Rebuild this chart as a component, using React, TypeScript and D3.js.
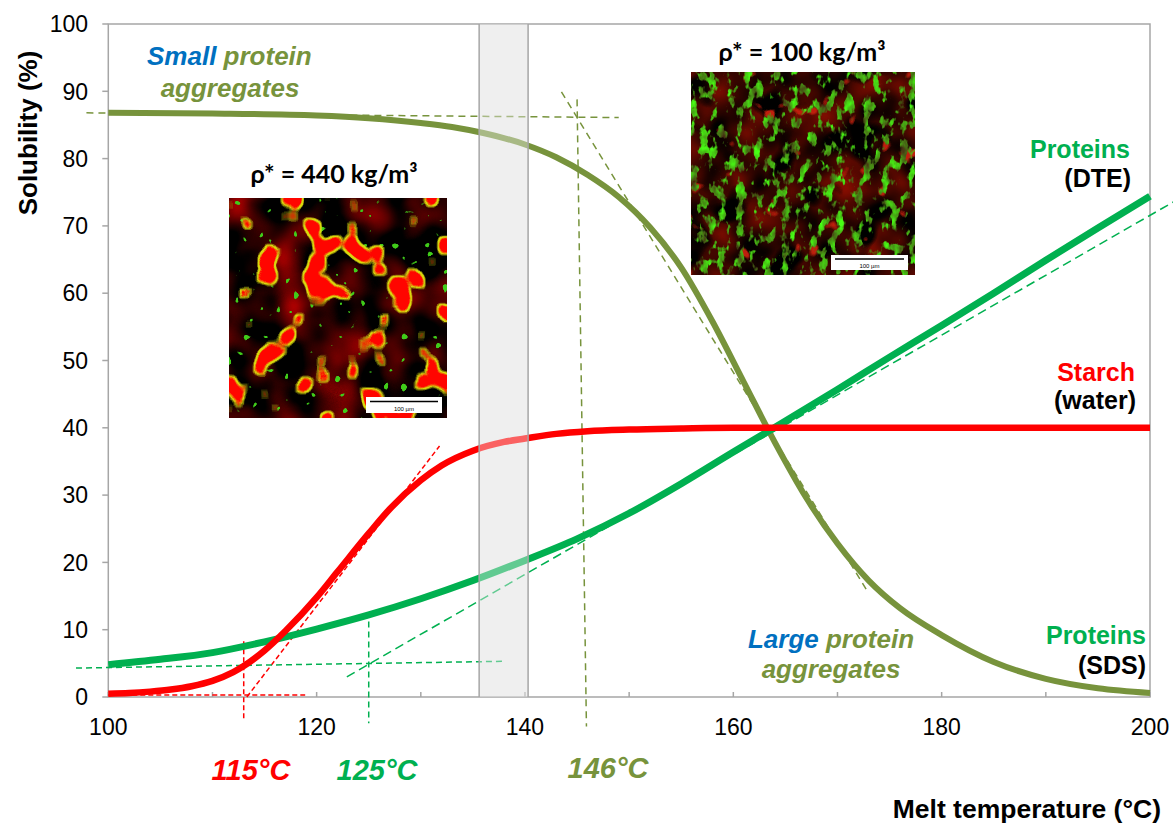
import React from "react";
import * as d3 from "d3";

// ---------- data ----------
const xTicks = [100, 110, 120, 130, 140, 150, 160, 170, 180, 190, 200];
const xTickLabels = [100, 120, 140, 160, 180, 200];
const yTicks = [0, 10, 20, 30, 40, 50, 60, 70, 80, 90, 100];

const starchX = [100, 102, 104, 106, 108, 110, 112, 113, 115, 117, 120, 122, 125, 127, 130, 132, 135, 138, 140, 143, 146, 150, 155, 160, 200];
const starchY = [0.5, 0.6, 0.8, 1.1, 1.6, 2.4, 3.7, 4.6, 6.9, 9.8, 14.8, 18.6, 24.3, 27.9, 32.2, 34.4, 36.6, 37.9, 38.4, 39.1, 39.5, 39.75, 39.9, 40, 40];

const dteX = [100, 105, 110, 115, 120, 125, 130, 135, 140, 145, 150, 155, 160, 165, 170, 175, 180, 185, 190, 195, 200];
const dteY = [4.8, 5.6, 6.6, 8.2, 10.1, 12.2, 14.6, 17.3, 20.3, 23.5, 27.3, 31.7, 36.4, 41.0, 45.7, 50.5, 55.2, 60.0, 64.9, 69.7, 74.4];

const sdsX = [100, 110, 120, 125, 130, 133, 136, 140, 143, 146, 149, 152, 155, 158, 161, 164, 167, 170, 173, 176, 180, 185, 190, 195, 200];
const sdsY = [86.8, 86.7, 86.4, 86.0, 85.3, 84.7, 83.8, 82.1, 80.2, 77.6, 74.3, 69.8, 63.8, 55.8, 46.8, 37.8, 29.6, 22.8, 17.3, 13.2, 9.2, 5.2, 2.7, 1.3, 0.6];

// shaded temperature band [from, to]
const band = [135.6, 140.3];

// construction (dashed) lines: [x1, y1, x2, y2] in data units
const redGuides = [
  [113, 8.3, 113, -3.4],
  [100, 0.3, 118.9, 0.3],
  [113.3, 0, 131.8, 37.3],
];
const greenGuides = [
  [125, 11.2, 125, -3.9],
  [96.9, 4.3, 137.8, 5.3],
  [122.9, 3.0, 202.4, 73.7],
];
const oliveGuides = [
  [97.9, 86.8, 149.0, 86.1],
  [145.0, 88.8, 145.9, -4.4],
  [143.5, 89.9, 173.0, 15.4],
];

const onsetLabels = ["115°C", "125°C", "146°C"];

const RED = "#FF0000";
const GREEN = "#00B050";
const OLIVE = "#77933C";
const BLUE = "#0070C0";
const AXIS = "#A6A6A6";

const W = 1173;
const H = 823;

export default function App() {
  const x = d3.scaleLinear().domain([100, 200]).range([108.3, 1150]);
  const y = d3.scaleLinear().domain([0, 100]).range([697, 24]);

  const mk = (xs: number[], ys: number[]) =>
    d3
      .line<number>()
      .x((_, i) => x(xs[i]))
      .y((d) => y(d))
      .curve(d3.curveMonotoneX)(ys) || "";

  const starchPath = mk(starchX, starchY);
  const dtePath = mk(dteX, dteY);
  const sdsPath = mk(sdsX, sdsY);

  const guide = (g: number[], color: string, dash: string, key: string) => (
    <line
      key={key}
      x1={x(g[0])}
      y1={y(g[1])}
      x2={x(g[2])}
      y2={y(g[3])}
      stroke={color}
      strokeWidth={1.5}
      strokeDasharray={dash}
    />
  );

  const sans = "'Liberation Sans', Arial, sans-serif";
  const calibri = "Lato, 'Open Sans', sans-serif";

  return (
    <div style={{ position: "absolute", left: 0, top: 0, width: W, height: H, background: "#fff" }}>
      <svg width={W} height={H} viewBox={`0 0 ${W} ${H}`} style={{ display: "block" }}>
        <defs>
          <filter id="tex1" x="0" y="0" width="1" height="1" colorInterpolationFilters="sRGB">
            <feTurbulence type="fractalNoise" baseFrequency="0.022" numOctaves="2" seed="2" result="n2" />
            <feColorMatrix in="n2" type="matrix" values="0 1.5 0 0 -0.62  0 0 0 0 0  0 0 0 0 0  0 0 0 0 1" result="bg" />
            <feTurbulence type="fractalNoise" baseFrequency="0.036 0.03" numOctaves="2" seed="7" result="n1" />
            <feGaussianBlur in="n1" stdDeviation="1.2" result="n1b" />
            <feColorMatrix in="n1b" type="matrix" values="0 0 0 0 1  0 0 0 0 0.02  0 0 0 0 0  22 0 0 0 -13.4" result="blob" />
            <feMorphology in="blob" operator="dilate" radius="1.5" result="dil" />
            <feColorMatrix in="dil" type="matrix" values="0 0 0 0 0.85  0 0 0 0 0.85  0 0 0 0 0.05  0 0 0 1 0" result="edge" />
            <feTurbulence type="fractalNoise" baseFrequency="0.12" numOctaves="1" seed="11" result="n3" />
            <feColorMatrix in="n3" type="matrix" values="0 0 0 0 0.25  0 0 0 0 0.8  0 0 0 0 0.1  0 30 0 0 -21" result="spk" />
            <feMerge result="m">
              <feMergeNode in="bg" />
              <feMergeNode in="spk" />
              <feMergeNode in="edge" />
              <feMergeNode in="blob" />
            </feMerge>
            <feComposite in="m" in2="SourceGraphic" operator="in" />
          </filter>
          <filter id="tex2" x="0" y="0" width="1" height="1" colorInterpolationFilters="sRGB">
            <feTurbulence type="fractalNoise" baseFrequency="0.03" numOctaves="2" seed="4" result="n2" />
            <feColorMatrix in="n2" type="matrix" values="0 0.8 0 0 -0.18  0 0.08 0 0 -0.02  0 0 0 0 0  0 0 0 0 1" result="bg" />
            <feTurbulence type="fractalNoise" baseFrequency="0.025" numOctaves="2" seed="31" result="n5" />
            <feColorMatrix in="n5" type="matrix" values="0 0 0 0 0  0 0 0 0 0  0 0 0 0 0  0 0 8 0 -4.5" result="dark" />
            <feTurbulence type="fractalNoise" baseFrequency="0.11 0.07" numOctaves="3" seed="9" result="n1" />
            <feColorMatrix in="n1" type="matrix" values="0 0 0 0 0.28  0 1.2 0 0 0.05  0 0 0 0 0.08  9 0 0 0 -4.8" result="grn" />
            <feTurbulence type="fractalNoise" baseFrequency="0.05" numOctaves="2" seed="21" result="n4" />
            <feColorMatrix in="n4" type="matrix" values="0 0 0 0 0.75  0 0 0 0 0.12  0 0 0 0 0.05  0 12 0 0 -8.3" result="redp" />
            <feMerge result="m">
              <feMergeNode in="bg" />
              <feMergeNode in="dark" />
              <feMergeNode in="redp" />
              <feMergeNode in="grn" />
            </feMerge>
            <feComposite in="m" in2="SourceGraphic" operator="in" />
          </filter>
        </defs>

        {/* band background */}
        <rect x={x(band[0])} y={y(100)} width={x(band[1]) - x(band[0])} height={y(0) - y(100)} fill="#EDEDED" />

        {/* axes frame */}
        <rect x={x(100)} y={y(100)} width={x(200) - x(100)} height={y(0) - y(100)} fill="none" stroke={AXIS} strokeWidth={1.5} />
        {yTicks.map((t) => (
          <line key={"yt" + t} x1={x(100) - 6} x2={x(100)} y1={y(t)} y2={y(t)} stroke={AXIS} strokeWidth={1.5} />
        ))}
        {xTicks.map((t) => (
          <line key={"xt" + t} x1={x(t)} x2={x(t)} y1={y(0)} y2={y(0) - 5} stroke={AXIS} strokeWidth={1.5} />
        ))}
        {yTicks.map((t) => (
          <text key={"yl" + t} x={88} y={y(t)} dy="0.36em" textAnchor="end" fontFamily={sans} fontSize={23} fill="#000">
            {t}
          </text>
        ))}
        {xTickLabels.map((t) => (
          <text key={"xl" + t} x={x(t)} y={735} textAnchor="middle" fontFamily={sans} fontSize={23} fill="#000">
            {t}
          </text>
        ))}

        {/* guides */}
        {redGuides.map((g, i) => guide(g, RED, "5 3", "rg" + i))}
        {greenGuides.map((g, i) => guide(g, GREEN, i === 2 ? "9 5" : "6 4", "gg" + i))}
        {oliveGuides.map((g, i) => guide(g, OLIVE, "7 5", "og" + i))}

        {/* curves */}
        <path d={sdsPath} fill="none" stroke={OLIVE} strokeWidth={6} />
        <path d={dtePath} fill="none" stroke={GREEN} strokeWidth={7} />
        <path d={starchPath} fill="none" stroke={RED} strokeWidth={6.5} />

        {/* band overlay */}
        <rect x={x(band[0])} y={y(100)} width={x(band[1]) - x(band[0])} height={y(0) - y(100)} fill="#F2F2F2" opacity={0.4} />
        <line x1={x(band[0])} x2={x(band[0])} y1={y(100)} y2={y(0)} stroke={AXIS} strokeWidth={1.5} />
        <line x1={x(band[1])} x2={x(band[1])} y1={y(100)} y2={y(0)} stroke={AXIS} strokeWidth={1.5} />

        {/* micrographs */}
        <rect x={229} y={198} width={218} height={220} fill="#000" filter="url(#tex1)" />
        <rect x={366} y={397} width={76} height={16} fill="#fff" />
        <line x1={370} x2={438} y1={401.5} y2={401.5} stroke="#000" strokeWidth={1.5} />
        <text x={404} y={411} textAnchor="middle" fontFamily={sans} fontSize={6} fill="#000">100 µm</text>

        <rect x={691} y={72} width={224} height={203} fill="#000" filter="url(#tex2)" />
        <rect x={831} y={255} width={77} height={15} fill="#fff" />
        <line x1={835} x2={904} y1={259} y2={259} stroke="#000" strokeWidth={1.5} />
        <text x={869.5} y={267.5} textAnchor="middle" fontFamily={sans} fontSize={6} fill="#000">100 µm</text>

        <text x={334} y={183} textAnchor="middle" fontFamily={calibri} fontWeight={700} fontSize={25} fill="#000">
          ρ* = 440 kg/m³
        </text>
        <text x={802} y={61} textAnchor="middle" fontFamily={calibri} fontWeight={700} fontSize={25} fill="#000">
          ρ* = 100 kg/m³
        </text>

        {/* annotations */}
        <text x={147} y={65} fontFamily={sans} fontWeight={700} fontStyle="italic" fontSize={26}>
          <tspan fill={BLUE}>Small</tspan>
          <tspan fill={OLIVE}> protein</tspan>
        </text>
        <text x={230} y={97} textAnchor="middle" fontFamily={sans} fontWeight={700} fontStyle="italic" fontSize={26} fill={OLIVE}>
          aggregates
        </text>
        <text x={831} y={648} textAnchor="middle" fontFamily={sans} fontWeight={700} fontStyle="italic" fontSize={26}>
          <tspan fill={BLUE}>Large</tspan>
          <tspan fill={OLIVE}> protein</tspan>
        </text>
        <text x={831} y={678} textAnchor="middle" fontFamily={sans} fontWeight={700} fontStyle="italic" fontSize={26} fill={OLIVE}>
          aggregates
        </text>

        <text x={1130} y={158} textAnchor="end" fontFamily={sans} fontWeight={700} fontSize={25} fill={GREEN}>Proteins</text>
        <text x={1131} y={187} textAnchor="end" fontFamily={sans} fontWeight={700} fontSize={25} fill="#000">(DTE)</text>
        <text x={1135} y={381} textAnchor="end" fontFamily={sans} fontWeight={700} fontSize={25} fill={RED}>Starch</text>
        <text x={1136} y={409} textAnchor="end" fontFamily={sans} fontWeight={700} fontSize={25} fill="#000">(water)</text>
        <text x={1146} y={644} textAnchor="end" fontFamily={sans} fontWeight={700} fontSize={25} fill={GREEN}>Proteins</text>
        <text x={1146} y={674} textAnchor="end" fontFamily={sans} fontWeight={700} fontSize={25} fill="#000">(SDS)</text>

        {/* onset temperatures */}
        <text x={251} y={780} textAnchor="middle" fontFamily={sans} fontWeight={700} fontStyle="italic" fontSize={29} fill={RED}>{onsetLabels[0]}</text>
        <text x={377} y={780} textAnchor="middle" fontFamily={sans} fontWeight={700} fontStyle="italic" fontSize={29} fill={GREEN}>{onsetLabels[1]}</text>
        <text x={608} y={778} textAnchor="middle" fontFamily={sans} fontWeight={700} fontStyle="italic" fontSize={29} fill={OLIVE}>{onsetLabels[2]}</text>

        {/* axis titles */}
        <text transform="translate(37,133) rotate(-90)" textAnchor="middle" fontFamily={sans} fontWeight={700} fontSize={26} fill="#000">
          Solubility (%)
        </text>
        <text x={1161} y={818} textAnchor="end" fontFamily={sans} fontWeight={700} fontSize={26.5} fill="#000">
          Melt temperature (°C)
        </text>
      </svg>
    </div>
  );
}
